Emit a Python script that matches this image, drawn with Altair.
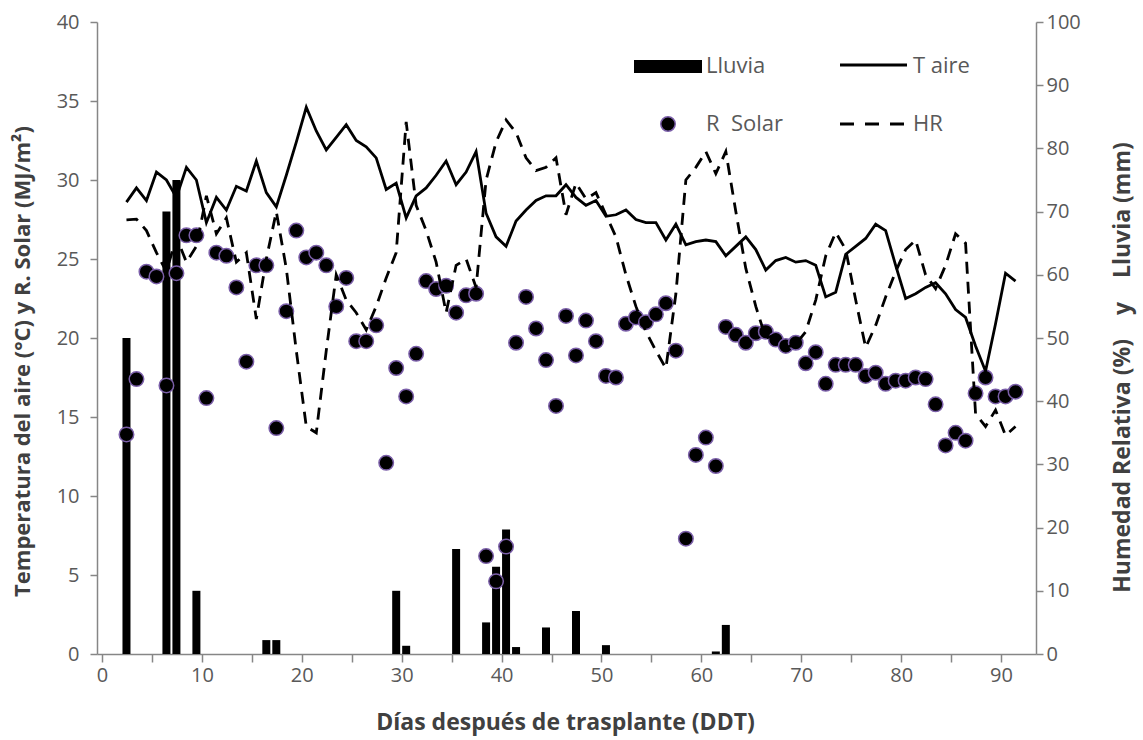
import altair as alt
import pandas as pd

# ---------------- data ----------------
dias = list(range(2, 92))

t_aire = [28.6, 29.5, 28.7, 30.5, 30.0, 28.9, 30.8, 30.0, 27.3, 28.9,
          28.1, 29.6, 29.3, 31.2, 29.2, 28.3, 30.3, 32.4, 34.6, 33.1,
          31.9, 32.7, 33.5, 32.5, 32.1, 31.4, 29.4, 29.8, 27.6, 29.0,
          29.5, 30.3, 31.2, 29.7, 30.5, 31.8, 27.9, 26.4, 25.8, 27.4,
          28.1, 28.7, 29.0, 29.0, 29.7, 28.9, 28.4, 28.7, 27.7, 27.8,
          28.1, 27.5, 27.3, 27.3, 26.2, 27.2, 25.9, 26.1, 26.2, 26.1,
          25.2, 25.8, 26.4, 25.6, 24.3, 24.9, 25.1, 24.8, 24.9, 24.6,
          22.6, 22.9, 25.3, 25.8, 26.3, 27.2, 26.8, 24.6, 22.5, 22.8,
          23.2, 23.5, 22.8, 21.8, 21.3, 19.5, 17.9, 20.9, 24.1, 23.6]

r_solar = [13.9, 17.4, 24.2, 23.9, 17.0, 24.1, 26.5, 26.5, 16.2, 25.4,
           25.2, 23.2, 18.5, 24.6, 24.6, 14.3, 21.7, 26.8, 25.1, 25.4,
           24.6, 22.0, 23.8, 19.8, 19.8, 20.8, 12.1, 18.1, 16.3, 19.0,
           23.6, 23.1, 23.3, 21.6, 22.7, 22.8, 6.2, 4.6, 6.8, 19.7,
           22.6, 20.6, 18.6, 15.7, 21.4, 18.9, 21.1, 19.8, 17.6, 17.5,
           20.9, 21.3, 21.0, 21.5, 22.2, 19.2, 7.3, 12.6, 13.7, 11.9,
           20.7, 20.2, 19.7, 20.3, 20.4, 19.9, 19.5, 19.7, 18.4, 19.1,
           17.1, 18.3, 18.3, 18.3, 17.6, 17.8, 17.1, 17.3, 17.3, 17.5,
           17.4, 15.8, 13.2, 14.0, 13.5, 16.5, 17.5, 16.3, 16.3, 16.6]

hr = [68.7, 68.8, 67.0, 63.5, 60.5, 66.0, 62.0, 64.5, 72.5, 66.5,
      69.0, 62.0, 63.5, 53.0, 62.5, 70.0, 61.0, 48.0, 36.0, 35.0,
      48.0, 60.0, 56.0, 54.0, 51.3, 55.0, 59.5, 63.5, 84.2, 71.0,
      67.0, 62.0, 54.0, 61.5, 62.5, 58.0, 75.0, 81.0, 84.5, 82.5,
      78.5, 76.5, 77.0, 78.5, 69.5, 74.5, 72.0, 73.0, 69.5, 66.0,
      60.0, 55.0, 51.0, 48.0, 45.2, 57.0, 75.0, 77.0, 79.5, 76.0,
      79.5, 70.0, 61.0, 55.0, 50.0, 50.5, 48.5, 49.0, 51.0, 56.0,
      63.0, 66.7, 64.0, 56.0, 48.5, 52.0, 56.5, 60.5, 64.0, 65.5,
      60.0, 57.8, 61.5, 66.5, 65.0, 38.0, 36.0, 38.6, 34.6, 36.0]

dias_lluvia = [2, 6, 7, 9, 16, 17, 29, 30, 35, 38, 39, 40, 41, 44, 47, 50, 61, 62]
lluvia = [50, 70, 75, 10, 2.2, 2.2, 10, 1.3, 16.6, 5, 13.8, 19.7, 1.1, 4.2, 6.8, 1.4, 0.4, 4.6]

x_ticks = list(range(0, 95, 5))
left_ticks = list(range(0, 45, 5))
right_ticks = list(range(0, 110, 10))

# ---------------- tables ----------------
df = pd.DataFrame({"dia": dias, "T": t_aire, "RS": r_solar, "HR": hr})
df_ll = pd.DataFrame({"dia": dias_lluvia, "mm": lluvia})
one = pd.DataFrame({"k": [0]})

FONT = "Open Sans"
LABEL_COLOR = "#595959"
TITLE_COLOR = "#404040"
AXIS_COLOR = "#868686"
W, H = 939, 632
SP = "\u00a0"

x_scale = alt.Scale(domain=[0, 93], nice=False, zero=False)
x_axis = alt.Axis(
    values=x_ticks,
    labelExpr="datum.value % 10 == 0 ? datum.label : ''",
    title="Días después de trasplante (DDT)",
    titleX=468, titleY=68, titleBaseline="middle", titleAlign="center",
    titleFontSize=23,
    tickSize=8, labelPadding=3,
)
X = alt.X("xd:Q", scale=x_scale, axis=x_axis)

left_scale = alt.Scale(domain=[0, 40], nice=False)
right_scale = alt.Scale(domain=[0, 100], nice=False)

left_axis = alt.Axis(
    orient="left", values=left_ticks, tickSize=7, labelPadding=11,
    title="Temperatura del aire (°C) y R. Solar (MJ/m²)",
    titleAngle=270, titleX=-75, titleY=339, titleAlign="center", titleBaseline="middle",
    titleFontSize=22,
)
right_axis = alt.Axis(
    orient="right", values=right_ticks, tickSize=7, labelPadding=3,
    title="Humedad Relativa (%)" + SP * 4 + "y" + SP * 4 + "Lluvia (mm)",
    titleAngle=270, titleX=86, titleY=345, titleAlign="center", titleBaseline="middle",
    titleFontSize=23,
)

base = alt.Chart(df).transform_calculate(xd="datum.dia + 0.45")

bars = alt.Chart(df_ll).transform_calculate(xd="datum.dia + 0.45").mark_bar(
    size=8, color="black"
).encode(x=X, y=alt.Y("mm:Q", scale=right_scale, axis=right_axis))

dots = base.mark_circle(
    size=210, color="black", opacity=1, stroke="#7b5fa9", strokeWidth=1.5
).encode(x=X, y=alt.Y("RS:Q", scale=left_scale, axis=left_axis))

t_line = base.mark_line(color="black", strokeWidth=2.8).encode(
    x=X, y=alt.Y("T:Q", scale=left_scale, axis=None)
)

hr_line = base.mark_line(color="black", strokeWidth=2.8, strokeDash=[12, 8]).encode(
    x=X, y=alt.Y("HR:Q", scale=right_scale, axis=None)
)

# ---------------- legend (inside plot area) ----------------
txt = dict(align="left", baseline="middle", font=FONT, fontSize=22, color=LABEL_COLOR)

leg_rect = alt.Chart(one).mark_rect(color="black").encode(
    x=alt.value(537), x2=alt.value(605), y=alt.value(38), y2=alt.value(51)
)
leg_rect_t = alt.Chart(one).mark_text(**txt).encode(
    x=alt.value(609), y=alt.value(44), text=alt.value("Lluvia")
)
leg_t = alt.Chart(one).mark_rule(color="black", strokeWidth=2.8).encode(
    x=alt.value(743), x2=alt.value(810), y=alt.value(43)
)
leg_t_t = alt.Chart(one).mark_text(**txt).encode(
    x=alt.value(816), y=alt.value(44), text=alt.value("T aire")
)
leg_p = alt.Chart(one).mark_circle(
    size=210, color="black", opacity=1, stroke="#7b5fa9", strokeWidth=1.5
).encode(x=alt.value(571), y=alt.value(102))
leg_p_t = alt.Chart(one).mark_text(**txt).encode(
    x=alt.value(609), y=alt.value(102), text=alt.value("R" + SP * 2 + "Solar")
)
leg_hr = alt.Chart(one).mark_rule(color="black", strokeWidth=2.8, strokeDash=[14, 11]).encode(
    x=alt.value(743), x2=alt.value(810), y=alt.value(102)
)
leg_hr_t = alt.Chart(one).mark_text(**txt).encode(
    x=alt.value(816), y=alt.value(102), text=alt.value("HR")
)

chart = alt.layer(
    bars, dots, t_line, hr_line,
    leg_rect, leg_rect_t, leg_t, leg_t_t, leg_p, leg_p_t, leg_hr, leg_hr_t,
).resolve_scale(y="independent").properties(
    width=W, height=H,
    autosize=alt.AutoSizeParams(type="none"),
    padding={"left": 97, "top": 22, "right": 107, "bottom": 86},
    background="white",
).configure_view(stroke=None).configure_axis(
    grid=False,
    domainColor=AXIS_COLOR, tickColor=AXIS_COLOR, domainWidth=1.5, tickWidth=1.5,
    labelFont=FONT, labelFontSize=20, labelColor=LABEL_COLOR,
    titleFont=FONT, titleFontSize=22, titleFontWeight="bold", titleColor=TITLE_COLOR,
)

chart.save("out.html", embed_options={"renderer": "svg", "actions": False})
